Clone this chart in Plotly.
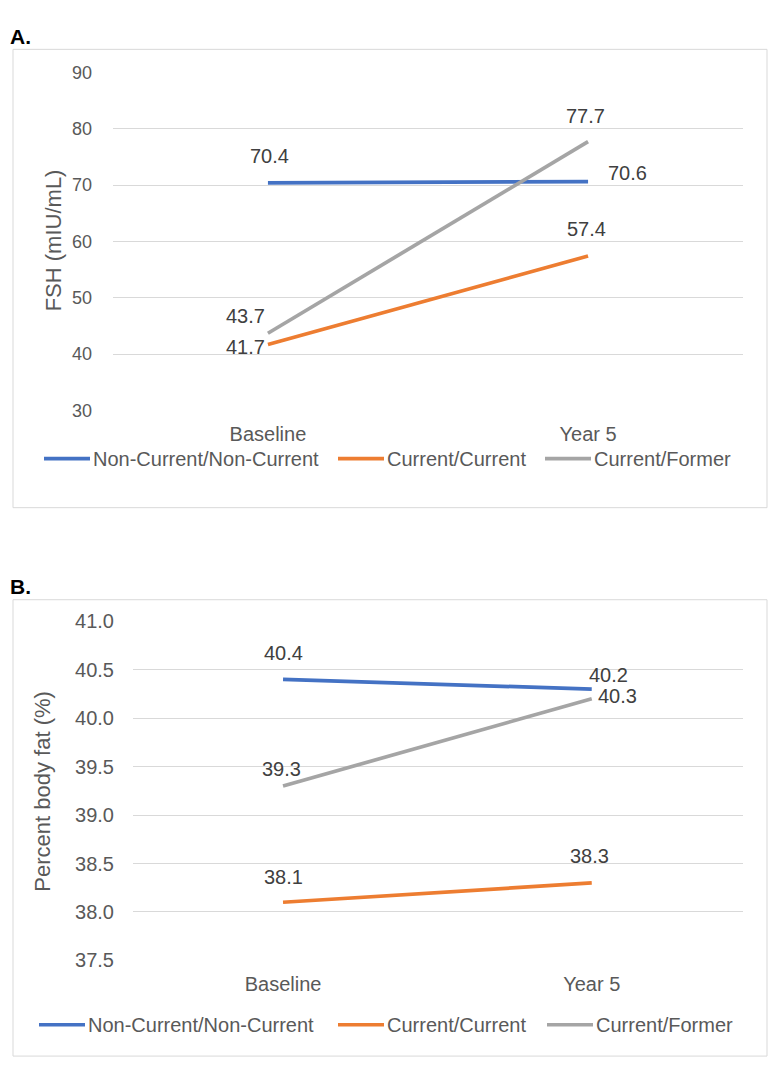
import plotly.graph_objects as go

# ---------------- data ----------------
categories = ["Baseline", "Year 5"]
series_names = ["Non-Current/Non-Current", "Current/Current", "Current/Former"]

fsh_noncurrent = [70.4, 70.6]
fsh_current = [41.7, 57.4]
fsh_former = [43.7, 77.7]

fat_noncurrent = [40.4, 40.3]
fat_current = [38.1, 38.3]
fat_former = [39.3, 40.2]

fsh_ticks = [30, 40, 50, 60, 70, 80, 90]
fat_ticks = [37.5, 38.0, 38.5, 39.0, 39.5, 40.0, 40.5, 41.0]

# ---------------- styling ----------------
# the page body keeps its default 8px margin, so the figure is 16px smaller
# than the window and screen coordinates are shifted by 8px
PAD = 8
W, H = 776 - 2 * PAD, 1079 - 2 * PAD
colors = ["#4472C4", "#ED7D31", "#A5A5A5"]
FONT = "Arial, Liberation Sans, sans-serif"
GRID = "#D9D9D9"
TXT = "#595959"
LBL = "#404040"


def px(x):
    return (x - PAD) / W


def py(y):
    return 1 - (y - PAD) / H


fig = go.Figure()

panels = [
    dict(xa="x", ya="y", data=[fsh_noncurrent, fsh_current, fsh_former],
         # label offsets (xshift, yshift) per series per point
         offs=[[(2, 27), (39, 9)], [(-22, -2), (-2, 27)], [(-22, 17), (-3, 26)]]),
    dict(xa="x2", ya="y2", data=[fat_noncurrent, fat_current, fat_former],
         offs=[[(0, 26), (26, -7)], [(0, 25), (-2, 27)], [(-2, 17), (17, 24)]]),
]

annotations = []
for p in panels:
    for i, vals in enumerate(p["data"]):
        fig.add_trace(go.Scatter(
            x=categories, y=vals, mode="lines", name=series_names[i],
            line=dict(color=colors[i], width=3.7),
            xaxis=p["xa"], yaxis=p["ya"], showlegend=False, hoverinfo="skip"))
        for j, v in enumerate(vals):
            dx, dy = p["offs"][i][j]
            annotations.append(dict(
                x=categories[j], y=v, xref=p["xa"], yref=p["ya"],
                text=f"{v:.1f}", showarrow=False, xshift=dx, yshift=dy,
                xanchor="center", yanchor="middle",
                font=dict(family=FONT, size=20, color=LBL)))

# y-axis titles
annotations.append(dict(x=px(53), y=py(234), xref="paper", yref="paper",
                        text="FSH (mIU/mL)", textangle=-90, showarrow=False,
                        xanchor="center", yanchor="middle",
                        font=dict(family=FONT, size=22, color=TXT)))
annotations.append(dict(x=px(43), y=py(797), xref="paper", yref="paper",
                        text="Percent body fat (%)", textangle=-90, showarrow=False,
                        xanchor="center", yanchor="middle",
                        font=dict(family=FONT, size=22, color=TXT)))

# panel letters
annotations.append(dict(x=px(8), y=py(26), xref="paper", yref="paper", text="<b>A.</b>",
                        showarrow=False, xanchor="left", yanchor="middle",
                        font=dict(family=FONT, size=21, color="#000000")))
annotations.append(dict(x=px(8), y=py(587), xref="paper", yref="paper", text="<b>B.</b>",
                        showarrow=False, xanchor="left", yanchor="middle",
                        font=dict(family=FONT, size=21, color="#000000")))

shapes = []
# chart borders
for (x0, y0, x1, y1) in [(13, 39, 767, 507), (13, 601, 767, 1067)]:
    shapes.append(dict(type="rect", xref="paper", yref="paper",
                       x0=px(x0), x1=px(x1), y0=py(y1), y1=py(y0),
                       line=dict(color=GRID, width=1), fillcolor="rgba(0,0,0,0)"))

# custom legends
legend_rows = [(457, [44, 338, 545]), (1035, [39, 338, 547])]
for ly, starts in legend_rows:
    for i, name in enumerate(series_names):
        x0 = starts[i]
        shapes.append(dict(type="line", xref="paper", yref="paper",
                           x0=px(x0), x1=px(x0 + 46), y0=py(ly), y1=py(ly),
                           line=dict(color=colors[i], width=3.7)))
        annotations.append(dict(x=px(x0 + 47), y=py(ly), xref="paper", yref="paper",
                                text=name, showarrow=False, xanchor="left", yanchor="middle",
                                font=dict(family=FONT, size=20, color=TXT)))

common_x = dict(type="category", showgrid=False, zeroline=False, showline=False,
                ticks="", tickfont=dict(family=FONT, size=20, color=TXT), ticklabelstandoff=10)
common_y = dict(showgrid=True, gridcolor=GRID, gridwidth=1, zeroline=False, showline=False,
                ticks="")

fig.update_layout(
    width=W, height=H,
    margin=dict(l=0, r=0, t=0, b=0),
    paper_bgcolor="white", plot_bgcolor="white",
    xaxis=dict(domain=[px(113), px(743)], anchor="y", range=[-0.484, 1.484], **common_x),
    yaxis=dict(domain=[py(407.7), py(62.5)], anchor="x", range=[30, 90], tickvals=fsh_ticks,
               ticktext=[str(t) for t in fsh_ticks],
               tickfont=dict(family=FONT, size=18, color=TXT), ticklabelstandoff=20, **common_y),
    xaxis2=dict(domain=[px(133), px(743)], anchor="y2", range=[-0.486, 1.49], **common_x),
    yaxis2=dict(domain=[py(969.3), py(623)], anchor="x2", range=[37.5, 41.0], tickvals=fat_ticks,
                ticktext=[f"{t:.1f}" for t in fat_ticks],
                tickfont=dict(family=FONT, size=20, color=TXT), ticklabelstandoff=18, **common_y),
    annotations=annotations,
    shapes=shapes,
    showlegend=False,
)

fig.write_html("out.html")
